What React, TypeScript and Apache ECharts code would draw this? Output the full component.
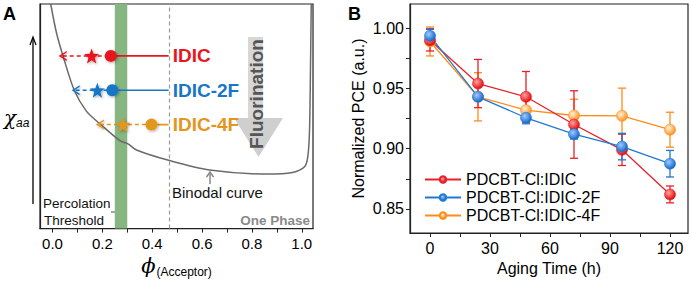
import React, { useEffect, useRef } from "react";
import * as echarts from "echarts";

// ---------- Panel A data (schematic phase diagram) ----------
const phiLabels = [0, 0.2, 0.4, 0.6, 0.8, 1.0];
const phiTicks = [0, 0.1, 0.2, 0.3, 0.4, 0.5, 0.6, 0.7, 0.8, 0.9, 1.0];
const binodalX = [-0.007, 0.016, 0.042, 0.087, 0.136, 0.19, 0.27, 0.303, 0.337, 0.466, 0.63, 0.857, 0.963, 1.011, 1.024, 1.031, 1.035, 1.038];
const binodalY = [100, 87.2, 77.0, 61.7, 52.3, 46.7, 39.2, 37.7, 35.0, 30.4, 26.1, 24.3, 25.0, 27.5, 31.9, 43.7, 72.5, 100];
const acceptors = ["IDIC", "IDIC-2F", "IDIC-4F"];
const chiLevel = [76.9, 61.6, 46.3];
const circleX = [0.234, 0.24, 0.397];
const starX = [0.157, 0.18, 0.283];
const tipX = [0.041, 0.093, 0.19];
const thresholdLine = 0.466;
const percolationBand = [0.25, 0.3];

// ---------- Panel B data (aging) ----------
const agingTime = [0, 24, 48, 72, 96, 120];
const timeLabels = [0, 30, 60, 90, 120];
const timeTicks = [0, 15, 30, 45, 60, 75, 90, 105, 120];
const pceLabels = [0.85, 0.9, 0.95, 1.0];
const pceTicks = [0.85, 0.875, 0.9, 0.925, 0.95, 0.975, 1.0];
const blendNames = ["PDCBT-Cl:IDIC", "PDCBT-Cl:IDIC-2F", "PDCBT-Cl:IDIC-4F"];
const pceIDIC = [0.99, 0.954, 0.943, 0.92, 0.899, 0.862];
const errIDIC = [0.009, 0.02, 0.021, 0.028, 0.013, 0.007];
const pce2F = [0.9936, 0.943, 0.9256, 0.912, 0.9017, 0.8875];
const err2F = [0.006, 0.003, 0.005, 0.004, 0.011, 0.011];
const pce4F = [0.9889, 0.943, 0.932, 0.9275, 0.9272, 0.9157];
const err4F = [0.012, 0.02, 0.01, 0.0135, 0.023, 0.0145];

const FONT = "Liberation Sans, Arial, sans-serif";
const colorsA = ["#e8161d", "#1876c8", "#e3961e"];
const colorsB = ["#e8202a", "#1f78d1", "#ff8c1a"];
const gradB = [
  ["#ffa0a0", "#e00000"],
  ["#9ccbff", "#0a5fc8"],
  ["#fff3dc", "#ff8a12"],
];

function starPath(): string {
  const pts: string[] = [];
  for (let i = 0; i < 10; i++) {
    const r = i % 2 === 0 ? 10 : 4.2;
    const a = -Math.PI / 2 + (i * Math.PI) / 5;
    pts.push(`${(10 + r * Math.cos(a)).toFixed(2)},${(10 + r * Math.sin(a)).toFixed(2)}`);
  }
  return "path://M" + pts.join(" L") + " Z";
}
const STAR = starPath();
const CHEVRON = "path://M9,0 L0,5 L9,10 L9,8.3 L2.9,5 L9,1.7 Z";

function radial(c: string[]) {
  return new echarts.graphic.RadialGradient(0.38, 0.35, 0.7, [
    { offset: 0, color: c[0] },
    { offset: 1, color: c[1] },
  ]);
}

export default function App() {
  const ref = useRef<HTMLDivElement>(null);
  useEffect(() => {
    if (!ref.current) return;
    const chart = echarts.init(ref.current, undefined, { renderer: "svg" });

    const seriesA: any[] = [];
    seriesA.push({
      type: "line",
      name: "band",
      xAxisIndex: 0,
      yAxisIndex: 0,
      data: [],
      z: 1,
      silent: true,
      markArea: {
        silent: true,
        itemStyle: { color: "#86b783", opacity: 1 },
        data: [[{ xAxis: percolationBand[0] }, { xAxis: percolationBand[1] }]],
      },
      markLine: {
        silent: true,
        symbol: "none",
        label: { show: false },
        lineStyle: { color: "#9a9a9a", type: [4, 3], width: 1.2 },
        data: [{ xAxis: thresholdLine }],
      },
    });
    seriesA.push({
      type: "line",
      name: "binodal",
      xAxisIndex: 0,
      yAxisIndex: 0,
      data: binodalX.map((x, i) => [x, binodalY[i]]),
      smooth: 0.3,
      symbol: "none",
      lineStyle: { color: "#6a6a6a", width: 1.5 },
      z: 2,
    });
    acceptors.forEach((name, i) => {
      const y = chiLevel[i];
      seriesA.push({
        type: "line",
        name: name + "-dash",
        xAxisIndex: 0,
        yAxisIndex: 0,
        z: 3,
        data: [
          { value: [tipX[i], y], symbol: CHEVRON, symbolSize: [8, 10] },
          { value: [starX[i], y], symbol: STAR, symbolSize: 15 },
          { value: [circleX[i], y], symbol: "none" },
        ],
        lineStyle: { color: colorsA[i], width: 1.5, type: [4, 3] },
        itemStyle: {
          color: colorsA[i],
          shadowBlur: 3,
          shadowColor: "rgba(0,0,0,0.35)",
          shadowOffsetX: 1,
          shadowOffsetY: 1,
        },
      });
      seriesA.push({
        type: "line",
        name: name,
        xAxisIndex: 0,
        yAxisIndex: 0,
        z: 4,
        data: [
          { value: [circleX[i], y], symbol: "circle", symbolSize: 12 },
          { value: [thresholdLine, y], symbol: "none" },
        ],
        lineStyle: { color: colorsA[i], width: 1.6 },
        itemStyle: {
          color: colorsA[i],
          shadowBlur: 3,
          shadowColor: "rgba(0,0,0,0.35)",
          shadowOffsetX: 1,
          shadowOffsetY: 1,
        },
        endLabel: {
          show: true,
          formatter: (p: any) => p.seriesName,
          color: colorsA[i],
          fontFamily: FONT,
          fontWeight: "bold",
          fontSize: 19,
          distance: 4,
        },
      });
    });

    const pceSets = [pceIDIC, pce2F, pce4F];
    const errSets = [errIDIC, err2F, err4F];
    const order = [2, 0, 1];
    const seriesB: any[] = [];
    order.forEach((k) => {
      const col = colorsB[k];
      seriesB.push({
        type: "custom",
        name: blendNames[k] + "-err",
        xAxisIndex: 1,
        yAxisIndex: 1,
        z: 2,
        data: agingTime.map((t, i) => [t, pceSets[k][i] - errSets[k][i], pceSets[k][i] + errSets[k][i]]),
        renderItem: (params: any, api: any) => {
          const x = api.value(0);
          const lo = api.coord([x, api.value(1)]);
          const hi = api.coord([x, api.value(2)]);
          const w = 4;
          const st = { stroke: col, lineWidth: 1.3 };
          return {
            type: "group",
            children: [
              { type: "line", shape: { x1: lo[0], y1: lo[1], x2: hi[0], y2: hi[1] }, style: st },
              { type: "line", shape: { x1: lo[0] - w, y1: lo[1], x2: lo[0] + w, y2: lo[1] }, style: st },
              { type: "line", shape: { x1: hi[0] - w, y1: hi[1], x2: hi[0] + w, y2: hi[1] }, style: st },
            ],
          };
        },
      });
    });
    order.forEach((k) => {
      seriesB.push({
        type: "line",
        name: blendNames[k],
        xAxisIndex: 1,
        yAxisIndex: 1,
        z: 3,
        data: agingTime.map((t, i) => [t, pceSets[k][i]]),
        symbol: "circle",
        symbolSize: 11,
        lineStyle: { color: colorsB[k], width: 1.3 },
        itemStyle: { color: radial(gradB[k]), borderColor: colorsB[k], borderWidth: 0.6 },
      });
    });

    const axisTxt = { color: "#000", fontFamily: FONT };

    chart.setOption({
      animation: false,
      grid: [
        { left: 40, top: 4, width: 273, bottom: 50, show: true, borderColor: "#222", borderWidth: 1.2 },
        { left: 410, top: 4, right: 4, bottom: 50, show: true, borderColor: "#222", borderWidth: 1.2 },
      ],
      xAxis: [
        {
          type: "value",
          gridIndex: 0,
          min: -0.05,
          max: 1.045,
          splitLine: { show: false },
          axisLine: { onZero: false, lineStyle: { color: "#222", width: 1.2 } },
          axisTick: { customValues: phiTicks, length: 4, lineStyle: { color: "#222" } },
          axisLabel: { ...axisTxt, fontSize: 15, customValues: phiLabels, formatter: (v: number) => v.toFixed(1), margin: 7 },
          name: "{phi|ϕ}{sub|(Acceptor)}",
          nameLocation: "middle",
          nameGap: 24,
          nameTextStyle: {
            rich: {
              phi: { fontFamily: "DejaVu Serif", fontStyle: "italic", fontSize: 21, color: "#000", padding: [0, 1, 0, 0] },
              sub: { fontFamily: FONT, fontSize: 12, color: "#000", padding: [12, 0, 0, 0] },
            },
          },
        },
        {
          type: "value",
          gridIndex: 1,
          min: -10,
          max: 129,
          splitLine: { show: false },
          axisLine: { onZero: false, lineStyle: { color: "#222", width: 1.2 } },
          axisTick: { customValues: timeTicks, length: 4, lineStyle: { color: "#222" } },
          axisLabel: { ...axisTxt, fontSize: 16, customValues: timeLabels, margin: 7 },
          name: "Aging Time (h)",
          nameLocation: "middle",
          nameGap: 25,
          nameTextStyle: { ...axisTxt, fontSize: 16 },
        },
      ],
      yAxis: [
        {
          type: "value",
          gridIndex: 0,
          min: 0,
          max: 100,
          splitLine: { show: false },
          axisLine: { show: true, onZero: false, lineStyle: { color: "#222", width: 1.2 } },
          axisTick: { show: false },
          axisLabel: { show: false },
        },
        {
          type: "value",
          gridIndex: 1,
          min: 0.83,
          max: 1.02,
          splitLine: { show: false },
          axisLine: { show: true, onZero: false, lineStyle: { color: "#222", width: 1.2 } },
          axisTick: { customValues: pceTicks, length: 4, lineStyle: { color: "#222" } },
          axisLabel: { ...axisTxt, fontSize: 16, customValues: pceLabels, formatter: (v: number) => v.toFixed(2), margin: 6 },
          name: "Normalized PCE (a.u.)",
          nameLocation: "middle",
          nameGap: 44,
          nameTextStyle: { ...axisTxt, fontSize: 16 },
        },
      ],
      legend: {
        data: blendNames,
        orient: "vertical",
        left: 419,
        top: 166,
        itemWidth: 36,
        itemHeight: 8,
        itemGap: 1,
        textStyle: { fontFamily: FONT, fontSize: 16, color: "#000", lineHeight: 17 },
      },
      graphic: [
        { type: "text", left: 3, top: 5, style: { text: "A", font: `bold 18px ${FONT}`, fill: "#000" } },
        { type: "text", left: 348, top: 5, style: { text: "B", font: `bold 18px ${FONT}`, fill: "#000" } },
        // y arrow (chi_aa)
        { type: "line", shape: { x1: 33, y1: 204, x2: 33, y2: 38 }, style: { stroke: "#000", lineWidth: 1.3 } },
        { type: "polyline", shape: { points: [[30, 45], [33, 37], [36, 45]] }, style: { stroke: "#000", lineWidth: 1.2, fill: null } },
        {
          type: "text",
          x: 4,
          y: 118,
          style: {
            text: "{c|χ}{s|aa}",
            verticalAlign: "middle",
            rich: {
              c: { fontFamily: "DejaVu Serif", fontStyle: "italic", fontSize: 20, fill: "#000" },
              s: { fontFamily: FONT, fontStyle: "italic", fontSize: 12, fill: "#000", padding: [10, 0, 0, 0] },
            },
          },
        },
        // Fluorination arrow
        { type: "rect", shape: { x: 248, y: 37, width: 15, height: 82 }, style: { fill: "#d7d7d7" }, z: 0 },
        { type: "polygon", shape: { points: [[234, 118], [283, 118], [258.5, 157]] }, style: { fill: "#cfcfcf" }, z: 0 },
        {
          type: "text",
          x: 256,
          y: 94,
          rotation: Math.PI / 2,
          style: { text: "Fluorination", font: `bold 19px ${FONT}`, fill: "#555", align: "center", verticalAlign: "middle" },
          z: 1,
        },
        // Binodal annotation
        { type: "text", left: 172, top: 185, style: { text: "Binodal curve", font: `15px ${FONT}`, fill: "#111" } },
        { type: "line", shape: { x1: 210, y1: 184, x2: 210, y2: 173 }, style: { stroke: "#888", lineWidth: 1.5 } },
        { type: "polyline", shape: { points: [[206.5, 177], [210, 172], [213.5, 177]] }, style: { stroke: "#888", lineWidth: 1.5, fill: null } },
        // Percolation annotation
        { type: "text", left: 43, top: 196, style: { text: "Percolation", font: `13.5px ${FONT}`, fill: "#111" } },
        { type: "text", left: 44, top: 213, style: { text: "Threshold", font: `13.5px ${FONT}`, fill: "#111" } },
        { type: "line", shape: { x1: 111, y1: 212, x2: 120, y2: 212 }, style: { stroke: "#888", lineWidth: 1.5 } },
        { type: "polyline", shape: { points: [[116, 208.5], [121, 212], [116, 215.5]] }, style: { stroke: "#888", lineWidth: 1.5, fill: null } },
        // One Phase
        { type: "text", right: 692 - 310, top: 213, style: { text: "One Phase", font: `bold 13.5px ${FONT}`, fill: "#8a8a8a" } },
      ],
      series: [...seriesA, ...seriesB],
    });

    return () => chart.dispose();
  }, []);

  return <div ref={ref} style={{ width: 692, height: 283, position: "absolute", left: 0, top: 0 }} />;
}
